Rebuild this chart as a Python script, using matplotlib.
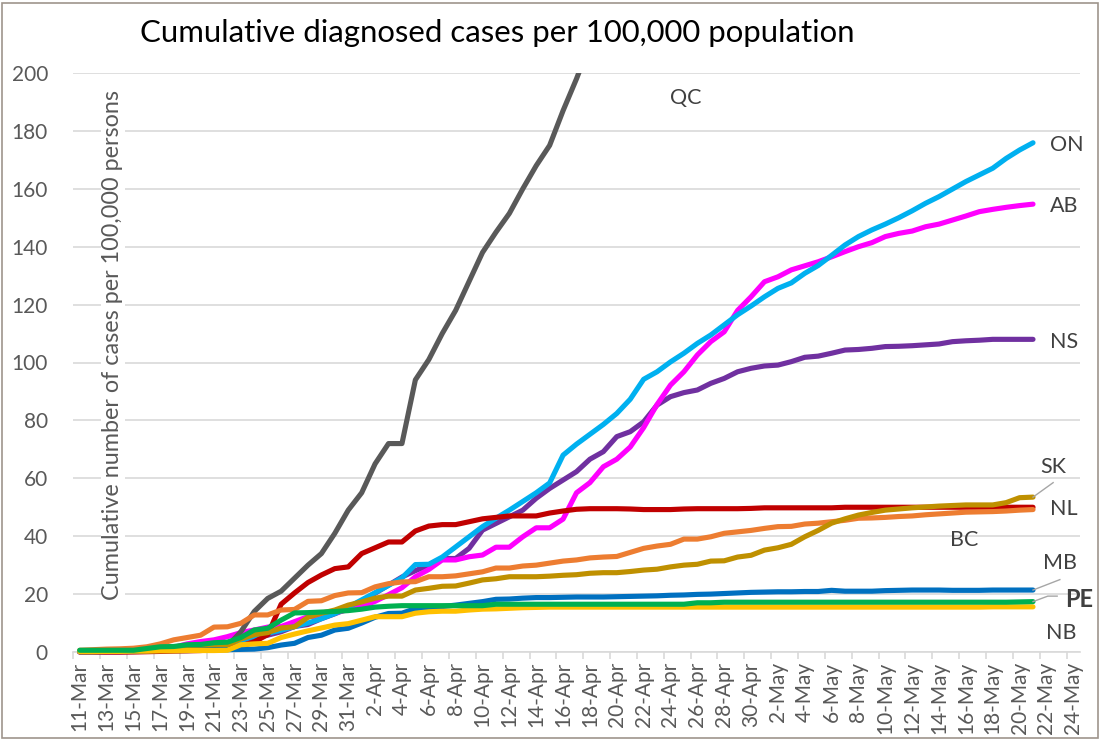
import pandas as pd
import matplotlib.pyplot as plt
from matplotlib.patches import Rectangle
from matplotlib.transforms import Bbox, TransformedBbox

# daily values from 11-Mar to 21-May (cases per 100,000)
qc = [0.2, 0.2, 0.2, 0.2, 0.3, 0.3, 0.5, 0.6, 0.8, 1.0, 1.2, 2.0, 7.0, 14.0, 18.5, 21.0,
      25.5, 30.0, 34.0, 41.0, 49.0, 55.0, 65.0, 72.0, 72.0, 94.0, 101.0, 110.0, 118.0,
      128.0, 138.0, 145.0, 151.5, 160.0, 168.0, 175.0, 187.0, 198.0, 210.0]
on = [0.1, 0.2, 0.3, 0.4, 0.5, 0.7, 1.0, 1.3, 1.6, 2.0, 2.5, 3.2, 4.0, 5.5, 6.5, 7.5,
      8.8, 10.0, 11.5, 13.3, 15.5, 18.0, 20.5, 23.0, 25.6, 30.2, 30.3, 32.8, 36.3, 39.8,
      43.3, 46.2, 49.0, 52.0, 55.0, 58.4, 68.0, 71.8, 75.2, 78.6, 82.4, 87.3, 94.2, 96.8,
      100.2, 103.2, 106.6, 109.5, 113.0, 116.5, 119.5, 122.7, 125.6, 127.5, 130.8, 133.5,
      137.0, 140.6, 143.5, 145.8, 147.8, 150.0, 152.4, 155.0, 157.3, 159.9, 162.5, 164.8,
      167.1, 170.5, 173.4, 175.9]
ab = [0.2, 0.3, 0.4, 0.5, 0.6, 0.8, 1.2, 1.6, 2.8, 3.6, 4.2, 5.3, 6.7, 7.6, 8.6, 8.8,
      10.5, 12.2, 12.4, 13.6, 14.6, 15.7, 17.5, 19.8, 22.2, 26.0, 28.5, 31.8, 31.8, 32.9,
      33.5, 36.2, 36.2, 39.8, 42.9, 42.9, 45.9, 55.0, 58.5, 64.0, 66.6, 70.8, 77.5, 85.5,
      92.2, 96.8, 102.6, 107.2, 110.6, 118.0, 122.7, 127.9, 129.6, 132.0, 133.4, 134.8,
      136.5, 138.3, 140.0, 141.4, 143.5, 144.6, 145.4, 146.9, 147.8, 149.2, 150.6, 152.1,
      152.9, 153.6, 154.2, 154.7]
ns = [0.0, 0.0, 0.0, 0.0, 0.2, 0.3, 0.5, 0.7, 1.0, 1.5, 2.0, 2.8, 3.8, 5.0, 5.8, 7.0,
      8.8, 9.5, 11.5, 13.2, 15.0, 17.4, 20.3, 23.1, 25.9, 28.1, 30.0, 32.3, 32.3, 35.8,
      42.1, 44.4, 46.7, 49.0, 53.1, 56.5, 59.4, 62.3, 66.6, 69.2, 74.4, 76.1, 79.5, 85.3,
      88.2, 89.6, 90.5, 92.8, 94.5, 96.8, 98.0, 98.8, 99.1, 100.3, 101.8, 102.2, 103.2,
      104.3, 104.5, 104.9, 105.5, 105.6, 105.8, 106.1, 106.4, 107.2, 107.5, 107.7, 108.0,
      108.0, 108.0, 108.0]
sk = [0.2, 0.2, 0.3, 0.3, 0.4, 0.5, 0.7, 0.8, 1.0, 1.2, 1.5, 2.5, 4.5, 6.0, 6.7, 8.3,
      8.7, 12.0, 13.4, 14.5, 16.2, 17.3, 18.6, 19.3, 19.3, 21.4, 22.0, 22.7, 22.8, 23.8,
      24.9, 25.3, 26.0, 26.0, 26.0, 26.2, 26.5, 26.7, 27.2, 27.4, 27.4, 27.8, 28.3, 28.6,
      29.4, 30.0, 30.3, 31.4, 31.5, 32.8, 33.4, 35.2, 36.0, 37.2, 39.8, 42.0, 44.5, 46.0,
      47.3, 48.2, 49.0, 49.4, 49.8, 50.1, 50.4, 50.6, 50.8, 50.8, 50.8, 51.6, 53.3, 53.5]
nl = [0.0, 0.0, 0.0, 0.0, 0.0, 0.1, 0.2, 0.3, 0.4, 0.5, 0.8, 1.2, 2.0, 3.5, 6.0, 16.5,
      20.4, 24.0, 26.6, 28.8, 29.4, 34.0, 36.0, 38.0, 38.0, 41.8, 43.5, 44.0, 44.0, 45.0,
      46.0, 46.5, 47.0, 47.0, 47.0, 48.0, 48.7, 49.3, 49.5, 49.5, 49.5, 49.4, 49.2, 49.2,
      49.2, 49.4, 49.5, 49.5, 49.5, 49.5, 49.6, 49.8, 49.8, 49.8, 49.8, 49.8, 49.8, 50.0,
      50.0, 50.0, 50.0, 50.0, 50.0, 50.0, 50.0, 50.0, 50.0, 50.0, 50.0, 50.0, 50.0, 50.0]
bc = [0.6, 0.8, 1.0, 1.1, 1.3, 1.8, 2.8, 4.2, 5.0, 5.8, 8.6, 8.7, 9.9, 12.8, 12.8, 14.5,
      14.7, 17.5, 17.7, 19.5, 20.4, 20.5, 22.5, 23.6, 24.2, 24.3, 26.0, 26.0, 26.3, 27.0,
      27.7, 29.0, 29.0, 29.7, 30.0, 30.7, 31.4, 31.8, 32.5, 32.8, 33.0, 34.4, 35.8, 36.6,
      37.2, 39.0, 39.0, 39.8, 41.0, 41.5, 42.0, 42.7, 43.3, 43.4, 44.2, 44.5, 45.0, 45.5,
      46.2, 46.3, 46.5, 46.8, 47.0, 47.4, 47.7, 48.0, 48.3, 48.4, 48.5, 48.7, 49.0, 49.2]
mb = [0.1, 0.1, 0.2, 0.2, 0.3, 0.4, 0.5, 0.5, 0.5, 0.6, 0.7, 0.8, 0.9, 1.0, 1.5, 2.4,
      3.0, 5.0, 5.8, 7.6, 8.2, 10.0, 12.0, 13.3, 13.4, 15.0, 15.3, 15.7, 16.2, 16.8, 17.4,
      18.2, 18.3, 18.6, 18.8, 18.8, 18.9, 19.0, 19.0, 19.0, 19.1, 19.2, 19.3, 19.4, 19.6,
      19.7, 19.9, 20.0, 20.2, 20.4, 20.6, 20.7, 20.8, 20.8, 20.9, 20.9, 21.3, 21.0, 21.0,
      21.0, 21.2, 21.3, 21.4, 21.4, 21.4, 21.3, 21.3, 21.3, 21.4, 21.4, 21.4, 21.4]
pe = [0.6, 0.6, 0.6, 0.6, 0.6, 1.2, 1.8, 1.9, 2.5, 2.6, 3.2, 3.4, 5.0, 7.6, 8.2, 11.0,
      13.5, 13.6, 13.8, 14.0, 14.3, 14.8, 15.5, 15.8, 16.0, 16.0, 16.0, 16.0, 16.0, 16.0,
      16.0, 16.5, 16.5, 16.5, 16.5, 16.5, 16.5, 16.5, 16.5, 16.5, 16.5, 16.5, 16.5, 16.5,
      16.5, 16.5, 17.0, 17.0, 17.2, 17.2, 17.2, 17.2, 17.2, 17.2, 17.2, 17.2, 17.2, 17.2,
      17.2, 17.2, 17.2, 17.2, 17.2, 17.2, 17.2, 17.2, 17.2, 17.2, 17.2, 17.2, 17.3, 17.4]
nb = [0.1, 0.1, 0.2, 0.2, 0.3, 0.3, 0.4, 0.4, 0.5, 0.5, 0.5, 0.6, 2.5, 2.8, 3.0, 5.0,
      6.2, 7.3, 8.3, 9.3, 9.8, 11.0, 12.2, 12.2, 12.2, 13.4, 13.9, 14.1, 14.1, 14.5, 14.8,
      14.9, 15.1, 15.3, 15.4, 15.5, 15.5, 15.5, 15.5, 15.5, 15.5, 15.5, 15.5, 15.5, 15.5,
      15.5, 15.5, 15.5, 15.5, 15.5, 15.5, 15.5, 15.5, 15.5, 15.5, 15.5, 15.5, 15.5, 15.5,
      15.5, 15.5, 15.5, 15.5, 15.5, 15.5, 15.5, 15.5, 15.5, 15.6, 15.6, 15.6, 15.6]

# x axis categories: 11-Mar .. 24-May, labelled every second day
dates = pd.date_range('2020-03-11', '2020-05-24', freq='D')
tick_labels = [f"{d.day}-{d.strftime('%b')}" for d in dates[::2]]

plt.rcParams['font.family'] = ['Lato', 'DejaVu Sans']

fig = plt.figure(figsize=(11.01, 7.40), dpi=100)
ax = fig.add_axes([73 / 1101, 1 - 652 / 740, 1007 / 1101, 579 / 740])

series = [
    ('NS', ns, '#7030A0'),
    ('AB', ab, '#FF00FF'),
    ('ON', on, '#00B0F0'),
    ('QC', qc, '#595959'),
    ('NL', nl, '#C00000'),
    ('BC', bc, '#ED7D31'),
    ('SK', sk, '#BF9000'),
    ('MB', mb, '#0070C0'),
    ('NB', nb, '#FFC000'),
    ('PE', pe, '#00B050'),
]
for name, vals, col in series:
    line, = ax.plot(range(len(vals)), vals, color=col, lw=3.7,
                    solid_joinstyle='round', solid_capstyle='round', zorder=3)
    # let lines near zero spill below the axis like the original, but cut at 200
    line.set_clip_box(TransformedBbox(Bbox([[-0.5, -10], [74.5, 200]]), ax.transData))

ax.set_xlim(-0.5, 74.5)
ax.set_ylim(0, 200)

ax.set_yticks(range(0, 201, 20))
ax.yaxis.grid(True, color='#D9D9D9', lw=1.2)
ax.set_axisbelow(True)
ax.tick_params(axis='y', length=0, pad=18, labelsize=15, labelcolor='#595959')

ax.set_xticks(range(0, 75, 2))
ax.set_xticklabels(tick_labels, rotation=90)
ax.set_xticks([i - 0.5 for i in range(0, 75, 2)], minor=True)
ax.tick_params(axis='x', which='major', length=0, pad=7, labelsize=15, labelcolor='#595959')
ax.tick_params(axis='x', which='minor', length=5, width=1.2, color='#D9D9D9')

for s in ['left', 'right', 'top']:
    ax.spines[s].set_visible(False)
ax.spines['bottom'].set_color('#D9D9D9')
ax.spines['bottom'].set_linewidth(1.2)

ax.text(40 / 1007, 0.53, 'Cumulative number of cases per 100,000 persons',
        transform=ax.transAxes, rotation=90, ha='center', va='center',
        fontsize=16.8, color='#595959', zorder=2,
        bbox=dict(facecolor='white', edgecolor='none', pad=1))

fig.text(140 / 1101, 1 - 33 / 740, 'Cumulative diagnosed cases per 100,000 population',
         ha='left', va='center', fontsize=22.4, color='black')

# series labels
labels = {
    'QC': (45.1, 191.4), 'ON': (73.5, 175.0), 'AB': (73.3, 154.0), 'NS': (73.3, 107.0),
    'SK': (72.5, 64.0), 'NL': (73.3, 49.4), 'BC': (65.9, 38.7), 'MB': (73.0, 30.7),
    'NB': (73.1, 6.6),
}
for name, (lx, ly) in labels.items():
    ax.text(lx, ly, name, ha='center', va='center', fontsize=15.5, color='#404040', zorder=4)
ax.text(74.4, 18.0, 'PE', ha='center', va='center', fontsize=17, fontweight='bold',
        color='#404040', zorder=4)

# leader lines from labels to the line ends
lead = dict(color='#A6A6A6', lw=1, zorder=4, clip_on=False)
ax.plot([71, 72.5], [sk[-1], 58.5], **lead)
ax.plot([71, 73.0], [mb[-1], 25.0], **lead)
ax.plot([71, 72.1, 72.8], [pe[-1], 19.3, 19.3], **lead)

fig.add_artist(Rectangle((2 / 1101, 2 / 740), 1096 / 1101, 735 / 740, transform=fig.transFigure,
                         fill=False, edgecolor='#9E958C', lw=1.2))

fig.savefig('out.png', dpi=100)
